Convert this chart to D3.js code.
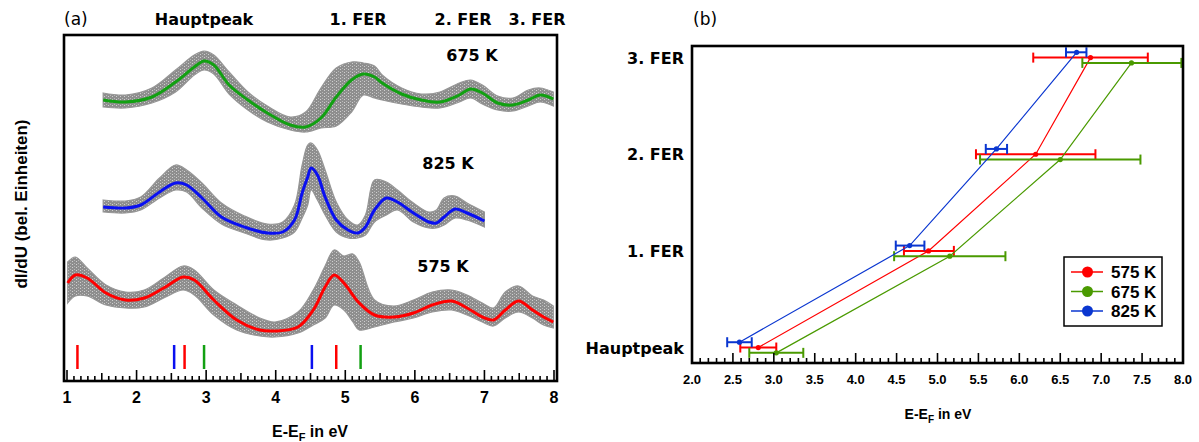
<!DOCTYPE html>
<html><head><meta charset="utf-8">
<script src="https://cdn.jsdelivr.net/npm/d3@7"></script>
<style>
html,body{margin:0;padding:0;background:#fff;}
svg{display:block;}
</style></head>
<body><svg id="c" width="1199" height="442"></svg>
<script>
// ---------- Panel (a): dI/dU spectra (arbitrary units) ----------
const mean575 = [[1.01,117],[1.12,125],[1.29,122],[1.56,107],[1.84,100],[2.11,102],[2.39,112],[2.67,123],[2.83,120],[3.11,100],[3.44,80],[3.77,70],[3.99,69],[4.32,73],[4.54,90],[4.71,113],[4.84,125],[4.98,117],[5.20,97],[5.42,85],[5.70,83],[5.98,87],[6.25,95],[6.53,99],[6.75,92],[6.97,83],[7.13,80],[7.30,90],[7.49,99],[7.69,90],[7.85,83],[7.99,78]];
const band575 = [[1.01,138,97],[1.12,143,104],[1.29,132,104],[1.56,115,95],[1.84,108,92],[2.11,110,93],[2.39,122,102],[2.67,134,110],[2.83,130,105],[3.11,110,85],[3.44,95,70],[3.77,82,64],[3.99,78,63],[4.32,88,67],[4.54,110,75],[4.71,134,82],[4.84,150,95],[4.98,144,90],[5.11,146,78],[5.20,138,70],[5.42,100,73],[5.70,94,78],[5.98,100,82],[6.25,108,88],[6.53,110,90],[6.75,105,85],[6.97,97,78],[7.13,92,74],[7.30,108,82],[7.49,114,88],[7.69,104,82],[7.85,100,75],[7.99,94,72]];

const mean675 = [[1.52,300],[1.84,298],[2.22,303],[2.56,318],[2.83,333],[2.97,339],[3.11,335],[3.33,315],[3.60,300],[3.88,287],[4.21,275],[4.43,273],[4.65,282],[4.87,303],[5.09,320],[5.26,326],[5.42,323],[5.53,317],[5.81,306],[6.09,300],[6.36,298],[6.64,305],[6.80,311],[6.97,307],[7.19,297],[7.41,295],[7.63,300],[7.80,305],[7.99,301]];
const band675 = [[1.52,307,293],[1.84,305,292],[2.22,312,297],[2.56,330,308],[2.83,345,325],[2.97,349,330],[3.11,345,326],[3.33,328,306],[3.60,308,290],[3.88,294,278],[4.21,283,270],[4.43,288,268],[4.65,312,272],[4.87,332,274],[5.09,338,288],[5.26,337,305],[5.42,334,302],[5.53,325,300],[5.81,312,296],[6.09,306,293],[6.36,308,292],[6.64,317,298],[6.80,320,302],[6.97,315,296],[7.19,304,290],[7.41,302,289],[7.63,310,294],[7.80,312,298],[7.99,308,294]];

const mean825 = [[1.52,193],[1.84,192],[2.06,195],[2.33,208],[2.56,217],[2.72,215],[2.94,202],[3.22,183],[3.55,173],[3.88,167],[4.10,168],[4.27,180],[4.38,207],[4.46,223],[4.51,232],[4.60,225],[4.71,203],[4.87,180],[5.04,170],[5.18,167],[5.29,173],[5.42,190],[5.59,202],[5.75,198],[5.98,187],[6.20,178],[6.31,177],[6.42,183],[6.58,191],[6.75,187],[7.00,179]];
const band825 = [[1.52,200,188],[1.84,199,187],[2.06,203,190],[2.33,222,202],[2.56,235,210],[2.72,230,208],[2.94,217,192],[3.22,197,176],[3.55,184,167],[3.88,176,160],[4.10,178,162],[4.27,195,168],[4.38,235,182],[4.46,255,195],[4.51,257,210],[4.60,250,200],[4.71,230,185],[4.87,198,168],[5.04,180,162],[5.18,175,162],[5.29,185,165],[5.42,220,178],[5.59,218,185],[5.75,210,190],[5.98,197,178],[6.20,188,172],[6.31,190,172],[6.42,202,175],[6.58,204,182],[6.75,197,180],[7.00,188,173]];

// peak marker positions (eV)
const markers575 = [1.15, 2.69, 4.87];
const markers675 = [2.97, 5.22];
const markers825 = [2.54, 4.52];

const tempLabels = ["575 K","675 K","825 K"];
const topLabels = ["Hauptpeak","1. FER","2. FER","3. FER"];
const leftTickLabels = [1,2,3,4,5,6,7,8];

// ---------- Panel (b): peak positions ----------
const peaks = ["Hauptpeak","1. FER","2. FER","3. FER"];
const pos575 = [2.81, 4.89, 6.20, 6.87];
const lo575  = [2.59, 4.59, 5.47, 6.17];
const hi575  = [3.03, 5.20, 6.93, 7.57];
const pos675 = [3.03, 5.15, 6.50, 7.37];
const lo675  = [2.70, 4.47, 5.52, 6.77];
const hi675  = [3.36, 5.83, 7.48, 7.98];
const pos825 = [2.58, 4.66, 5.72, 6.70];
const lo825  = [2.43, 4.49, 5.59, 6.57];
const hi825  = [2.73, 4.84, 5.85, 6.82];
const rightTickLabels = ["2.0","2.5","3.0","3.5","4.0","4.5","5.0","5.5","6.0","6.5","7.0","7.5","8.0"];

// ---------- drawing ----------
const svg = d3.select("#c");
const boldSans = "'DejaVu Sans', sans-serif";
const arial = "'Liberation Sans', Arial, sans-serif";

// Panel (a)
const A = {l:64, r:557, t:35, b:381};
const xa = d3.scaleLinear().domain([1,8]).range([67,554]);
const ya = d3.scaleLinear().domain([19,364]).range([381,36]);
const gA = svg.append("g");

const band = d3.area().x(d=>xa(d[0])).y0(d=>ya(d[2])).y1(d=>ya(d[1])).curve(d3.curveCatmullRom);
const line = d3.line().x(d=>xa(d[0])).y(d=>ya(d[1])).curve(d3.curveCatmullRom);

const series = [
  {mean:mean675, band:band675, color:"#12a012"},
  {mean:mean825, band:band825, color:"#0a10f0"},
  {mean:mean575, band:band575, color:"#ff0000"}
];
const defs = svg.append("defs");
const pat = defs.append("pattern").attr("id","hatch").attr("width",4).attr("height",3).attr("patternUnits","userSpaceOnUse");
pat.append("rect").attr("width",4).attr("height",3).attr("fill","#8e8e8e");
pat.append("rect").attr("x",0).attr("y",0).attr("width",1).attr("height",1).attr("fill","#d0d0d0");
pat.append("rect").attr("x",2).attr("y",2).attr("width",1).attr("height",1).attr("fill","#b8b8b8");

series.forEach(s=>{
  gA.append("path").datum(s.band).attr("d",band).attr("fill","url(#hatch)").attr("stroke","#969696").attr("stroke-width",1.2);
});
series.forEach(s=>{
  gA.append("path").datum(s.mean).attr("d",line).attr("fill","none").attr("stroke",s.color).attr("stroke-width",3);
});

// peak markers
const markerSets = [[markers575,"#ff0000"],[markers675,"#12a012"],[markers825,"#0a10f0"]];
markerSets.forEach(([arr,c])=>{
  gA.selectAll(null).data(arr).enter().append("line")
    .attr("x1",d=>xa(d)).attr("x2",d=>xa(d)).attr("y1",345).attr("y2",369)
    .attr("stroke",c).attr("stroke-width",2.5);
});

// ticks (inward from bottom)
const ticksA = d3.range(10,81).map(d=>d/10);
gA.selectAll(null).data(ticksA).enter().append("line")
  .attr("x1",d=>xa(d)).attr("x2",d=>xa(d))
  .attr("y1",A.b).attr("y2",d=>{const k=Math.round(d*10); return A.b - (k%10===0?11:(k%5===0?8:5));})
  .attr("stroke","#000").attr("stroke-width",1.6);

gA.append("rect").attr("x",A.l).attr("y",A.t).attr("width",A.r-A.l).attr("height",A.b-A.t)
  .attr("fill","none").attr("stroke","#000").attr("stroke-width",2.6);

gA.selectAll(null).data(leftTickLabels).enter().append("text")
  .attr("x",d=>xa(d)).attr("y",403).attr("text-anchor","middle")
  .attr("font-family",arial).attr("font-weight","bold").attr("font-size",16).text(d=>d);

// axis titles
const xt = gA.append("text").attr("x",310).attr("y",437).attr("text-anchor","middle")
  .attr("font-family",arial).attr("font-weight","bold").attr("font-size",16);
xt.append("tspan").text("E-E");
xt.append("tspan").attr("font-size",11).attr("dy",4).text("F");
xt.append("tspan").attr("dy",-4).text(" in eV");

svg.append("text").attr("transform","translate(27,204) rotate(-90)").attr("text-anchor","middle")
  .attr("font-family",arial).attr("font-weight","bold").attr("font-size",17).text("dI/dU (bel. Einheiten)");

svg.append("text").attr("x",64).attr("y",25).attr("font-family","'DejaVu Sans', sans-serif").attr("font-size",17).text("(a)");
svg.append("text").attr("x",693).attr("y",25).attr("font-family","'DejaVu Sans', sans-serif").attr("font-size",17).text("(b)");

gA.selectAll(null).data(topLabels).enter().append("text")
  .attr("x",(d,i)=>[204,358,463,537][i]).attr("y",25).attr("text-anchor","middle")
  .attr("font-family",boldSans).attr("font-weight","bold").attr("font-size",16).text(d=>d);

// temperature labels
const tempPos = [[443,272],[472,61],[448,169]];
gA.selectAll(null).data(tempLabels).enter().append("text")
  .attr("x",(d,i)=>tempPos[i][0]).attr("y",(d,i)=>tempPos[i][1]).attr("text-anchor","middle")
  .attr("font-family",boldSans).attr("font-weight","bold").attr("font-size",16).text(d=>d);

// Panel (b)
const B = {l:692, r:1183, t:46, b:363};
const xb = d3.scaleLinear().domain([2,8]).range([B.l,B.r]);
const yb = d3.scaleLinear().domain([-0.16,3.12]).range([B.b,B.t]);
const gB = svg.append("g");

const ser = [
  {pos:pos575, lo:lo575, hi:hi575, off:0, color:"#ff0000"},
  {pos:pos675, lo:lo675, hi:hi675, off:-0.055, color:"#4a9a00"},
  {pos:pos825, lo:lo825, hi:hi825, off:0.055, color:"#0a36d0"}
];
const lineB = d3.line().x(d=>xb(d[0])).y(d=>yb(d[1]));
ser.forEach(s=>{
  const pts = s.pos.map((v,i)=>[v,i+s.off]);
  gB.append("path").datum(pts).attr("d",lineB).attr("fill","none").attr("stroke",s.color).attr("stroke-width",1.2);
  const eb = gB.selectAll(null).data(pts.map((p,i)=>({y:p[1],lo:s.lo[i],hi:s.hi[i],v:p[0]}))).enter().append("g");
  eb.append("line").attr("x1",d=>xb(d.lo)).attr("x2",d=>xb(d.hi)).attr("y1",d=>yb(d.y)).attr("y2",d=>yb(d.y)).attr("stroke",s.color).attr("stroke-width",2);
  eb.append("line").attr("x1",d=>xb(d.lo)).attr("x2",d=>xb(d.lo)).attr("y1",d=>yb(d.y)-5).attr("y2",d=>yb(d.y)+5).attr("stroke",s.color).attr("stroke-width",2);
  eb.append("line").attr("x1",d=>xb(d.hi)).attr("x2",d=>xb(d.hi)).attr("y1",d=>yb(d.y)-5).attr("y2",d=>yb(d.y)+5).attr("stroke",s.color).attr("stroke-width",2);
  eb.append("circle").attr("cx",d=>xb(d.v)).attr("cy",d=>yb(d.y)).attr("r",2.6).attr("fill",s.color);
});

const ticksB = d3.range(20,81).map(d=>d/10);
gB.selectAll(null).data(ticksB).enter().append("line")
  .attr("x1",d=>xb(d)).attr("x2",d=>xb(d))
  .attr("y1",B.b).attr("y2",d=>{const k=Math.round(d*10); return B.b - (k%5===0?10:5);})
  .attr("stroke","#000").attr("stroke-width",1.6);

gB.append("rect").attr("x",B.l).attr("y",B.t).attr("width",B.r-B.l).attr("height",B.b-B.t)
  .attr("fill","none").attr("stroke","#000").attr("stroke-width",2.6);

gB.selectAll(null).data(rightTickLabels).enter().append("text")
  .attr("x",d=>xb(+d)).attr("y",384).attr("text-anchor","middle")
  .attr("font-family",arial).attr("font-weight","bold").attr("font-size",13).text(d=>d);

gB.selectAll(null).data(peaks).enter().append("text")
  .attr("x",684).attr("y",(d,i)=>yb(i)+6).attr("text-anchor","end")
  .attr("font-family",boldSans).attr("font-weight","bold").attr("font-size",16).text(d=>d);

const xt2 = gB.append("text").attr("x",938).attr("y",419).attr("text-anchor","middle")
  .attr("font-family",arial).attr("font-weight","bold").attr("font-size",14);
xt2.append("tspan").text("E-E");
xt2.append("tspan").attr("font-size",10).attr("dy",4).text("F");
xt2.append("tspan").attr("dy",-4).text(" in eV");

// legend
const lg = gB.append("g");
lg.append("rect").attr("x",1064).attr("y",257).attr("width",98).attr("height",69).attr("fill","#fff").attr("stroke","#000").attr("stroke-width",1.5);
const legColors = ["#ff0000","#4a9a00","#0a36d0"];
const li = lg.selectAll(null).data(tempLabels).enter().append("g").attr("transform",(d,i)=>`translate(0,${272+i*19.5})`);
li.append("line").attr("x1",1071).attr("x2",1103).attr("y1",0).attr("y2",0).attr("stroke",(d,i)=>legColors[i]).attr("stroke-width",1.5);
li.append("circle").attr("cx",1087.5).attr("cy",0).attr("r",5.5).attr("fill",(d,i)=>legColors[i]);
li.append("text").attr("x",1111).attr("y",6).attr("font-family",arial).attr("font-weight","bold").attr("font-size",17).text(d=>d);
</script>
</body></html>
